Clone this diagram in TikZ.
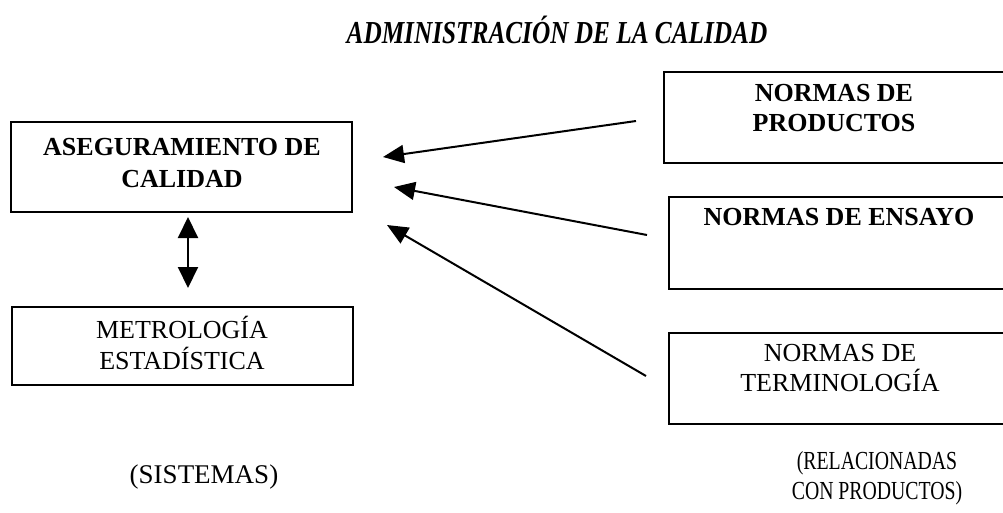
\documentclass[tikz,border=0pt]{standalone}
\usepackage{fontspec}
\setmainfont{Liberation Serif}
\usetikzlibrary{arrows.meta}
\tikzset{
  boxnode/.style={draw=black, line width=1.8pt, rectangle, inner sep=0pt},
  txt/.style={inner sep=0pt, align=center, font=\fontsize{26}{30}\selectfont},
  btxt/.style={txt, font=\fontsize{26}{30}\selectfont\bfseries},
  conn/.style={line width=2pt, -{Triangle[length=21pt,width=18pt]}},
  dconn/.style={line width=2pt, {Triangle[length=21pt,width=20pt]}-{Triangle[length=21pt,width=20pt]}}
}
\begin{document}
\begin{tikzpicture}[x=1pt,y=-1pt]
\useasboundingbox (0,0) rectangle (1003,512);
\clip (0,0) rectangle (1003,512);
% title
\node[inner sep=0pt, font=\fontsize{32}{34}\selectfont\bfseries\itshape] (title) at (557,30) {\scalebox{0.79}[1]{ADMINISTRACIÓN DE LA CALIDAD}};
% left boxes
\node[boxnode, minimum width=341pt, minimum height=90pt] (aseg) at (181.5,167) {};
\node[btxt, font=\fontsize{26}{32}\selectfont\bfseries] (asegt) at (182,163) {ASEGURAMIENTO DE\\CALIDAD};
\node[boxnode, minimum width=341pt, minimum height=78pt] (metro) at (182.5,346) {};
\node[txt, font=\fontsize{26}{31}\selectfont] (metrot) at (182,343) {METROLOGÍA\\ESTADÍSTICA};
% right boxes
\node[boxnode, minimum width=360pt, minimum height=91pt, anchor=north west] (prod) at (663,71) {};
\node[btxt] (prodt) at (834,108) {NORMAS DE\\PRODUCTOS};
\node[boxnode, minimum width=360pt, minimum height=92pt, anchor=north west] (ens) at (668,196) {};
\node[btxt] (enst) at (839,217) {NORMAS DE ENSAYO};
\node[boxnode, minimum width=360pt, minimum height=91pt, anchor=north west] (term) at (668,332) {};
\node[txt] (termt) at (840,368) {NORMAS DE\\TERMINOLOGÍA};
% captions
\node[txt, font=\fontsize{27}{30}\selectfont] (sist) at (204,477) {(SISTEMAS)};
\node[txt] (rel) at (877,478) {\scalebox{0.76}[1]{(RELACIONADAS}\\\scalebox{0.76}[1]{CON PRODUCTOS)}};
% connector end points
\coordinate (a1s) at (636,121);
\coordinate (a1e) at (383,157);
\coordinate (a2s) at (647,235);
\coordinate (a2e) at (394,187);
\coordinate (a3s) at (646,376);
\coordinate (a3e) at (387,225);
\coordinate (d1) at (188,217);
\coordinate (d2) at (188,288);
\draw[conn] (a1s) -- (a1e);
\draw[conn] (a2s) -- (a2e);
\draw[conn] (a3s) -- (a3e);
\draw[dconn] (d1) -- (d2);
\end{tikzpicture}
\end{document}
